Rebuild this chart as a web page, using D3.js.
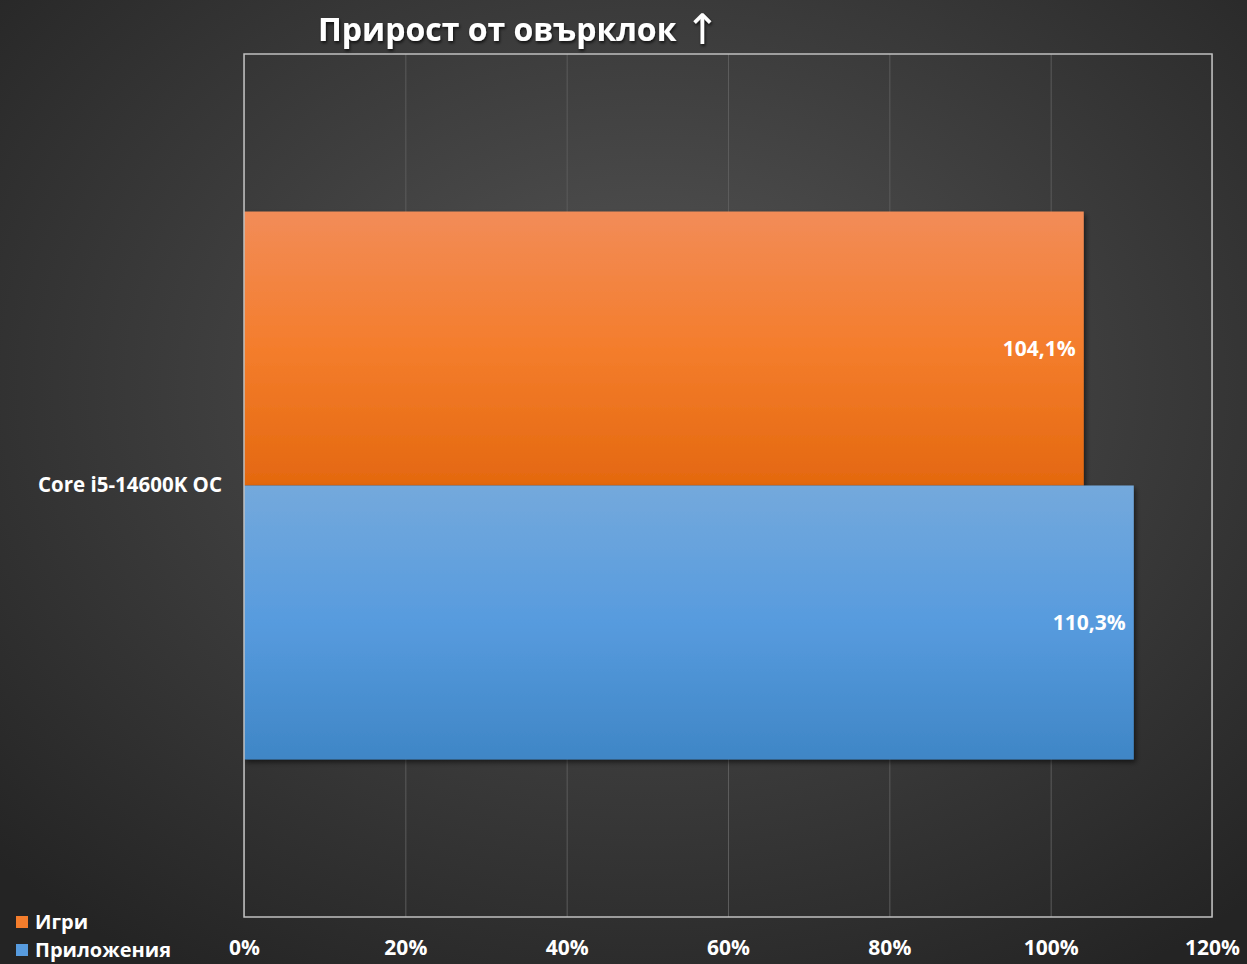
<!DOCTYPE html>
<html>
<head>
<meta charset="utf-8">
<script src="https://cdn.jsdelivr.net/npm/d3@7"></script>
<style>
  html, body { margin: 0; padding: 0; background: #2b2b2b; }
  svg { display: block; font-family: "Open Sans", "Noto Sans", sans-serif; }
</style>
</head>
<body>
<div id="chart"></div>
<script>
// chart data
var categories = ["Core i5-14600K OC"];
var seriesNames = ["Игри", "Приложения"];
var seriesValues = [[104.1], [110.3]];
var xTicks = [0, 20, 40, 60, 80, 100, 120];
var chartTitle = "Прирост от овърклок";
var titleArrow = "↑";

var width = 1247, height = 964;
var margin = { top: 54, right: 35, bottom: 47, left: 244 };
var innerW = width - margin.left - margin.right;
var innerH = height - margin.top - margin.bottom;

var fmt = function(v) { return d3.format(".1f")(v).replace(".", ",") + "%"; };

var svg = d3.select("#chart").append("svg")
  .attr("width", width).attr("height", height);

var defs = svg.append("defs");
var bg = defs.append("radialGradient").attr("id", "bgGrad")
  .attr("cx", "52%").attr("cy", "40%").attr("r", "72%");
bg.append("stop").attr("offset", "0%").attr("stop-color", "#565656");
bg.append("stop").attr("offset", "100%").attr("stop-color", "#242424");

var gradColors = [["#f28c58", "#f47d2c", "#e4680f"], ["#74a9dc", "#579bde", "#3f86c6"]];
gradColors.forEach(function(c, i) {
  var g = defs.append("linearGradient").attr("id", "barGrad" + i)
    .attr("x1", 0).attr("y1", 0).attr("x2", 0).attr("y2", 1);
  g.append("stop").attr("offset", "0%").attr("stop-color", c[0]);
  g.append("stop").attr("offset", "50%").attr("stop-color", c[1]);
  g.append("stop").attr("offset", "100%").attr("stop-color", c[2]);
});

var shadow = defs.append("filter").attr("id", "barShadow")
  .attr("x", "-5%").attr("y", "-5%").attr("width", "115%").attr("height", "115%");
shadow.append("feDropShadow").attr("dx", 2).attr("dy", 3).attr("stdDeviation", 2.5)
  .attr("flood-color", "#000").attr("flood-opacity", 0.55);

var txtShadow = defs.append("filter").attr("id", "txtShadow")
  .attr("x", "-10%").attr("y", "-20%").attr("width", "120%").attr("height", "150%");
txtShadow.append("feDropShadow").attr("dx", 1).attr("dy", 2).attr("stdDeviation", 1.5)
  .attr("flood-color", "#000").attr("flood-opacity", 0.7);

svg.append("rect").attr("width", width).attr("height", height).attr("fill", "url(#bgGrad)");

var x = d3.scaleLinear().domain([0, 120]).range([0, innerW]);
var y0 = d3.scaleBand().domain(categories).range([0, innerH]).paddingInner(0).paddingOuter(0.2875);
var y1 = d3.scaleBand().domain(d3.range(seriesNames.length)).range([0, y0.bandwidth()]);

var g = svg.append("g").attr("transform", "translate(" + margin.left + "," + margin.top + ")");

// grid
g.append("g").attr("class", "grid")
  .call(d3.axisBottom(x).tickValues(xTicks).tickSize(innerH).tickFormat(""))
  .call(function(s) {
    s.select(".domain").remove();
    s.selectAll("line").attr("stroke", "#5c5c5c").attr("stroke-width", 1);
  });

// bars
categories.forEach(function(cat, ci) {
  seriesNames.forEach(function(name, si) {
    var v = seriesValues[si][ci];
    g.append("rect")
      .attr("x", x(0))
      .attr("y", y0(cat) + y1(si))
      .attr("width", x(v) - x(0))
      .attr("height", y1.bandwidth())
      .attr("fill", "url(#barGrad" + si + ")")
      .attr("filter", "url(#barShadow)");
    g.append("text")
      .attr("x", x(v) - 8)
      .attr("y", y0(cat) + y1(si) + y1.bandwidth() / 2)
      .attr("dy", "0.35em")
      .attr("text-anchor", "end")
      .attr("fill", "#fff")
      .style("font-size", "21px").style("font-weight", "bold")
      .text(fmt(v));
  });
});

// plot border
g.append("rect").attr("x", 0).attr("y", 0).attr("width", innerW).attr("height", innerH)
  .attr("fill", "none").attr("stroke", "#c0c0c0").attr("stroke-width", 1.5);

// x axis labels
g.append("g").attr("transform", "translate(0," + innerH + ")")
  .call(d3.axisBottom(x).tickValues(xTicks).tickSize(0).tickPadding(23).tickFormat(function(d) { return d + "%"; }))
  .call(function(s) {
    s.select(".domain").remove();
    s.selectAll("text").attr("fill", "#fff").style("font-size", "21px").style("font-weight", "bold")
      .attr("font-family", "Open Sans, sans-serif");
  });

// y axis labels
g.append("g")
  .call(d3.axisLeft(y0).tickSize(0).tickPadding(22))
  .call(function(s) {
    s.select(".domain").remove();
    s.selectAll("text").attr("fill", "#fff").style("font-size", "20.5px").style("font-weight", "bold")
      .attr("font-family", "Open Sans, sans-serif");
  });

// title
var title = svg.append("text")
  .attr("x", 318).attr("y", 41)
  .attr("fill", "#fff")
  .attr("filter", "url(#txtShadow)")
  .style("font-size", "32px").style("font-weight", "bold");
title.append("tspan").text(chartTitle + " ");
title.append("tspan").attr("font-family", "DejaVu Sans").style("font-weight", "normal")
  .style("font-size", "42px").attr("dy", 3).text(titleArrow);

// legend
var legend = svg.append("g").attr("transform", "translate(16, 913)");
seriesNames.forEach(function(name, i) {
  var row = legend.append("g").attr("transform", "translate(0," + (i * 28) + ")");
  row.append("rect").attr("width", 12).attr("height", 12).attr("y", 3)
    .attr("fill", gradColors[i][1]);
  row.append("text").attr("x", 19).attr("y", 9).attr("dy", "0.35em")
    .attr("fill", "#fff").style("font-size", "20px").style("font-weight", "bold")
    .text(name);
});
</script>
</body>
</html>
